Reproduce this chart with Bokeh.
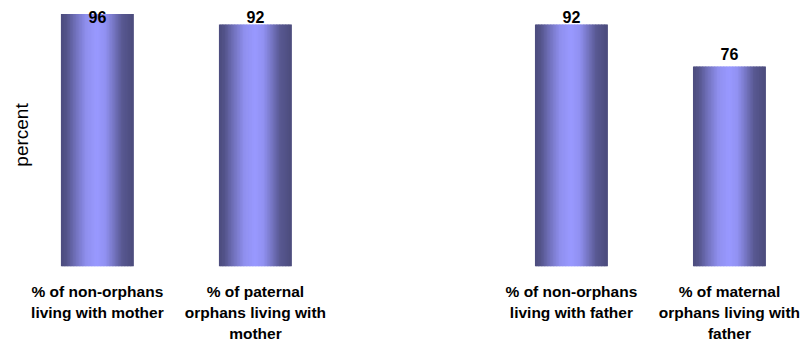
import numpy as np
from bokeh.plotting import figure
from bokeh.models import Range1d, FixedTicker
from bokeh.embed import file_html
from bokeh.resources import INLINE
from bokeh.core.properties import value

# ---- data ----
categories = [
    "% of non-orphans\nliving with mother",
    "% of paternal\norphans living with\nmother",
    "",
    "% of non-orphans\nliving with father",
    "% of maternal\norphans living with\nfather",
]
values = [96, 92, None, 92, 76]
y_label = "percent"

# ---- style ----
BAR_W = 0.456
N_STRIPS = 48
DARK = np.array([72, 72, 118])
LIGHT = np.array([153, 153, 255])
prof_t = [0.0, 0.08, 0.2, 0.35, 0.5, 0.62, 0.72, 0.85, 1.0]
prof_b = [0.05, 0.15, 0.5, 0.88, 1.0, 0.9, 0.6, 0.2, 0.05]

pos = [i for i, v in enumerate(values) if v is not None]
vals = [v for v in values if v is not None]

p = figure(width=801, height=345, output_backend="svg", toolbar_location=None,
           x_range=Range1d(-0.36, 4.456), y_range=Range1d(0, 100),
           min_border_left=40, min_border_right=0, min_border_top=3,
           min_border_bottom=75)
p.outline_line_color = None
p.xgrid.visible = False
p.ygrid.visible = False
p.background_fill_color = "white"
p.border_fill_color = "white"

# gradient bars as thin strips
sw = BAR_W / N_STRIPS
xs, tops, cols = [], [], []
for x0, v in zip(pos, vals):
    for k in range(N_STRIPS):
        t = (k + 0.5) / N_STRIPS
        b = np.interp(t, prof_t, prof_b)
        c = DARK + (LIGHT - DARK) * b
        xs.append(x0 - BAR_W / 2 + (k + 0.5) * sw)
        tops.append(v)
        cols.append("#%02x%02x%02x" % tuple(int(round(q)) for q in c))
p.vbar(x=xs, top=tops, bottom=0, width=sw * 1.6, fill_color=cols, line_color=None)

# value labels (clamped near the top, as in the original)
label_y = np.minimum(np.array(vals) + 2.5, 92.5)
p.text(x=pos, y=label_y, text=[str(v) for v in vals], text_align="center",
       text_baseline="alphabetic", y_offset=-6, text_font=value("Liberation Sans"),
       text_font_style="bold", text_font_size="16px", text_color="black")

# x axis
p.xaxis.ticker = FixedTicker(ticks=pos)
p.xaxis.major_label_overrides = {i: categories[i] for i in pos}
p.xaxis.axis_line_color = None
p.xaxis.major_tick_line_color = None
p.xaxis.minor_tick_line_color = None
p.xaxis.major_tick_out = 0
p.xaxis.major_tick_in = 0
p.xaxis.major_label_standoff = 16
p.xaxis.major_label_text_font = "Liberation Sans"
p.xaxis.major_label_text_font_style = "bold"
p.xaxis.major_label_text_font_size = "15.5px"
p.xaxis.major_label_text_line_height = 1.26
p.xaxis.major_label_text_color = "black"

# y axis: label only
p.yaxis.ticker = FixedTicker(ticks=[])
p.yaxis.axis_line_color = None
p.yaxis.major_tick_line_color = None
p.yaxis.minor_tick_line_color = None
p.yaxis.major_tick_out = 0
p.yaxis.major_tick_in = 0
p.yaxis.axis_label = y_label
p.yaxis.axis_label_text_font = "Liberation Sans"
p.yaxis.axis_label_text_font_style = "normal"
p.yaxis.axis_label_text_font_size = "19px"
p.yaxis.axis_label_text_color = "black"
p.yaxis.axis_label_standoff = 9

open("out.html", "w").write(file_html(p, INLINE))
